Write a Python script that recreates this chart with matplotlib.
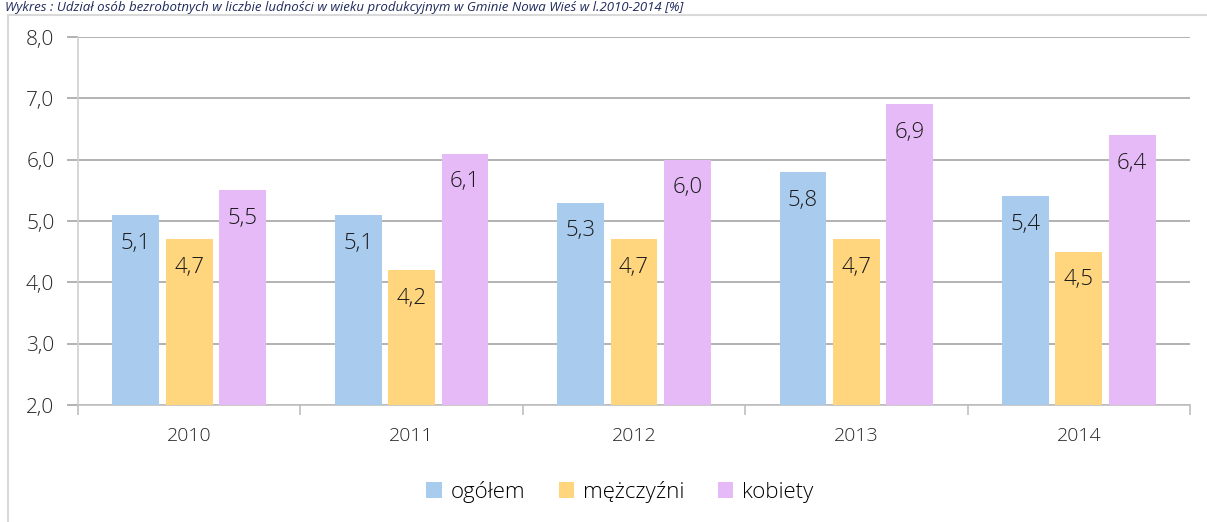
import matplotlib.pyplot as plt
import matplotlib.patches as mpatches
import numpy as np

plt.rcParams['font.family'] = ['Open Sans', 'DejaVu Sans']

years = ['2010', '2011', '2012', '2013', '2014']
ogolem = [5.1, 5.1, 5.3, 5.8, 5.4]
mezczyzni = [4.7, 4.2, 4.7, 4.7, 4.5]
kobiety = [5.5, 6.1, 6.0, 6.9, 6.4]
series_names = ['ogółem', 'mężczyźni', 'kobiety']
colors = ['#A9CBEE', '#FFD57E', '#E5BAF7']
title = 'Wykres : Udział osób bezrobotnych w liczbie ludności w wieku produkcyjnym w Gminie Nowa Wieś w l.2010-2014 [%]'

W, H = 1207, 522
fig = plt.figure(figsize=(W / 100, H / 100), dpi=100)

# outer chart frame (only left and top edges fall inside the picture)
fig.patches.append(mpatches.Rectangle((8 / W, -0.1), 1.2, (H - 15) / H + 0.1,
                                      transform=fig.transFigure, fill=False,
                                      edgecolor='#D9D9D9', linewidth=1.5))
# caption above the frame
fig.text(5 / W, 1 - 1 / H, title, ha='left', va='top', fontsize=9.5,
         style='italic', color='#1F2A5C')

ax = fig.add_axes([78 / W, 1 - 405 / H, (1190 - 78) / W, (405 - 37) / H])
x = np.arange(len(years))
bw = 0.21
step = 0.24
for i, (vals, name, c) in enumerate(zip([ogolem, mezczyzni, kobiety], series_names, colors)):
    xs = x + (i - 1) * step
    ax.bar(xs, np.array(vals) - 2.0, bottom=2.0, width=bw, color=c, label=name, zorder=3)
    for xi, v in zip(xs, vals):
        ax.text(xi, v - 0.46, f'{v:.1f}'.replace('.', ','), ha='center', va='center',
                fontsize=16, fontweight='light', color='#1A1A1A', zorder=4)

ax.set_xlim(-0.5, len(years) - 0.5)
ax.set_ylim(2.0, 8.0)
ax.set_yticks(np.arange(2, 9, 1))
ax.set_yticklabels([f'{t:.1f}'.replace('.', ',') for t in np.arange(2, 9, 1)],
                   fontweight='light')
ax.set_xticks(x)
ax.set_xticklabels(years, fontweight='light')
ax.set_xticks(np.arange(-0.5, len(years), 1), minor=True)
ax.tick_params(axis='x', which='major', length=0, pad=16, labelsize=14, labelcolor='#262626')
ax.tick_params(axis='x', which='minor', length=7, color='#BFBFBF', width=1.2)
ax.tick_params(axis='y', length=8, color='#A6A6A6', width=1.2, pad=9, labelsize=15,
               labelcolor='#262626')
ax.grid(axis='y', color='#A6A6A6', linewidth=1.2, zorder=0)
for s in ['top', 'right']:
    ax.spines[s].set_visible(False)
ax.spines['left'].set_color('#D0D0D0')
ax.spines['left'].set_linewidth(1.2)
ax.spines['bottom'].set_color('#BFBFBF')
ax.spines['bottom'].set_linewidth(1.2)

fig.legend(loc='center', bbox_to_anchor=(620 / W, 1 - 492 / H), ncol=3, frameon=False,
           prop={'size': 16, 'weight': 'light'}, handlelength=0.7, handleheight=0.7,
           handletextpad=0.4, columnspacing=1.5)

fig.savefig('out.png', dpi=100)
